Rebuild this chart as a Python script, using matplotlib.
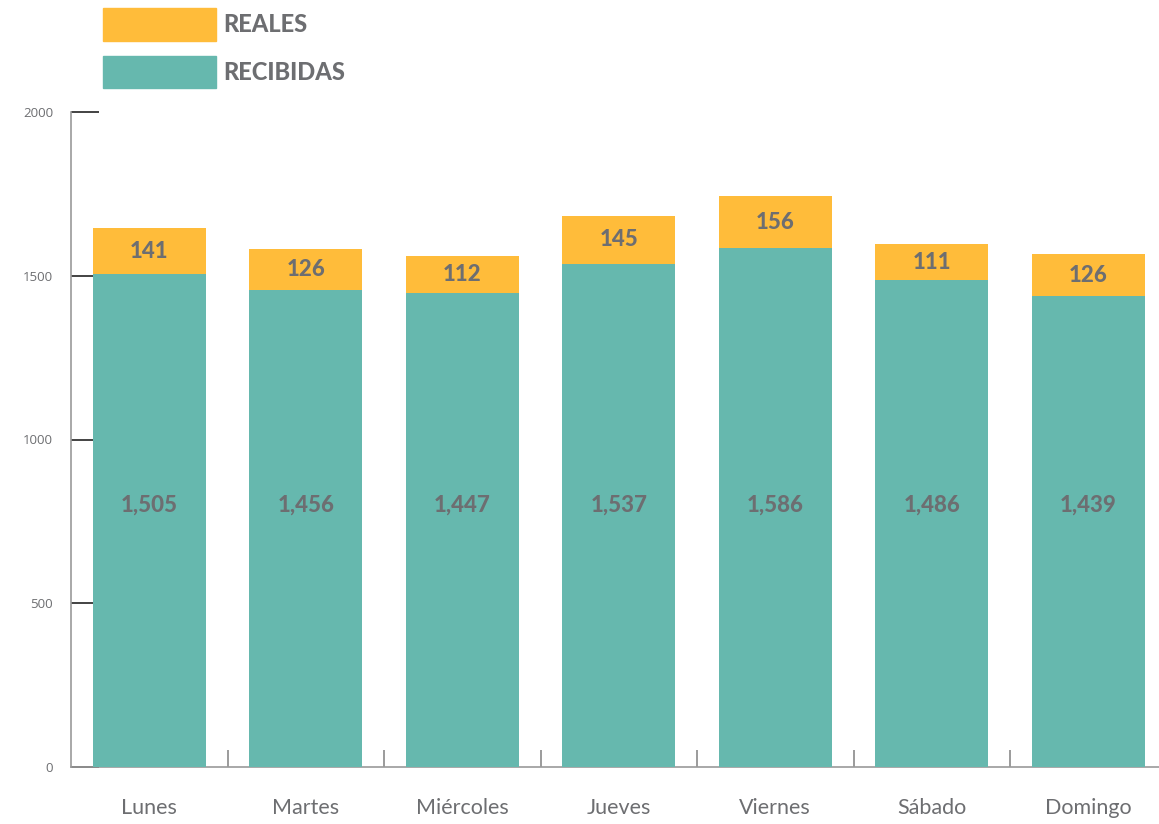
import numpy as np
import matplotlib
matplotlib.use("Agg")
import matplotlib.pyplot as plt
from matplotlib.patches import Patch

# Llamadas por día de la semana
dias = ['Lunes', 'Martes', 'Miércoles', 'Jueves', 'Viernes', 'Sábado', 'Domingo']
recibidas = [1505, 1456, 1447, 1537, 1586, 1486, 1439]
reales = [141, 126, 112, 145, 156, 111, 126]
y_ticks = [0, 500, 1000, 1500, 2000]

amarillo = '#FFBC3A'
verde = '#66B8AE'
gris = '#6D6E71'

plt.rcParams['font.family'] = ['Lato', 'DejaVu Sans']

fig = plt.figure(figsize=(11.59, 8.24), dpi=100)
ax = fig.add_axes([71 / 1159, 57 / 824, 1 - 71 / 1159, 655 / 824])

x = np.arange(len(dias))
ancho = 0.722

ax.bar(x, recibidas, width=ancho, color=verde, zorder=3)
ax.bar(x, reales, width=ancho, bottom=recibidas, color=amarillo, zorder=3)

# etiquetas de valores
for i in range(len(dias)):
    ax.text(x[i], 800, f'{recibidas[i]:,}', ha='center', va='center',
            fontsize=16, fontweight='black', color=gris, zorder=4)
    ax.text(x[i], recibidas[i] + reales[i] / 2, f'{reales[i]:,}',
            ha='center', va='center', fontsize=16, fontweight='black',
            color=gris, zorder=4)

ax.set_xlim(-0.5, 6.452)
ax.set_ylim(0, 2000)

# ejes
for lado in ['top', 'right']:
    ax.spines[lado].set_visible(False)
ax.spines['left'].set_color('#9a9a9a')
ax.spines['bottom'].set_color('#9a9a9a')
ax.spines['left'].set_linewidth(1.2)
ax.spines['bottom'].set_linewidth(1.2)

ax.set_yticks(y_ticks)
ax.set_yticklabels([str(v) for v in y_ticks], fontfamily='Open Sans',
                   fontsize=9.5, color=gris)
ax.tick_params(axis='y', direction='in', length=20, width=1.2,
               color='#222222', pad=13)

ax.set_xticks(x)
ax.set_xticklabels(dias, fontsize=15.5, color=gris)
ax.tick_params(axis='x', which='major', length=0, pad=22)
ax.set_xticks(np.arange(0.5, len(dias) - 1, 1), minor=True)
ax.tick_params(axis='x', which='minor', direction='in', length=12,
               width=1.2, color='#8a8a8a')

# leyenda
handles = [Patch(color=amarillo, label='REALES'),
           Patch(color=verde, label='RECIBIDAS')]
leg = fig.legend(handles=handles, loc='upper left',
                 bbox_to_anchor=(103 / 1159, 1 - 8 / 824), frameon=False,
                 fontsize=17, handlelength=4.8, handleheight=1.76,
                 handletextpad=0.3, labelspacing=0.63, borderpad=0,
                 borderaxespad=0)
for t in leg.get_texts():
    t.set_color(gris)
    t.set_fontweight('black')

fig.savefig('out.png', dpi=100)
